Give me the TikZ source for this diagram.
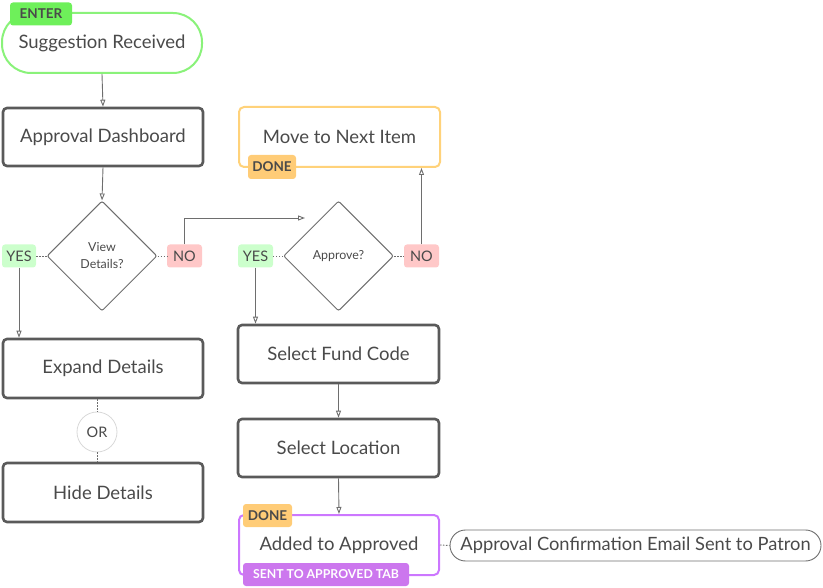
\documentclass[tikz,border=0pt]{standalone}
\usepackage{fontspec}
\setmainfont{Lato}
\usetikzlibrary{arrows.meta,shapes.geometric,calc}
\definecolor{txt}{HTML}{4A4A4A}
\definecolor{boxline}{HTML}{5A5A5A}
\definecolor{conn}{HTML}{6E6E6E}
\definecolor{entergreen}{HTML}{6EF05A}
\definecolor{enterline}{HTML}{8AF27A}
\definecolor{yesfill}{HTML}{CCFFCC}
\definecolor{nofill}{HTML}{FFC8C8}
\definecolor{doneline}{HTML}{FFD27A}
\definecolor{donefill}{HTML}{FFCC77}
\definecolor{purpline}{HTML}{CC77FF}
\definecolor{purpfill}{HTML}{CC77EE}
\definecolor{orline}{HTML}{D8D8D8}
\begin{document}
\begin{tikzpicture}[x=1pt,y=-1pt,
  every node/.style={text=txt,font=\fontsize{18.5}{21}\selectfont},
  procbox/.style={draw=boxline,line width=2.6pt,rounded corners=4pt,minimum width=200pt,minimum height=58pt,inner sep=0pt},
  colbox/.style={line width=2pt,rounded corners=5pt,minimum width=200pt,minimum height=60pt,inner sep=0pt},
  decide/.style={diamond,draw=conn,line width=1pt,inner sep=0pt,minimum width=110pt,minimum height=110pt,rounded corners=2pt,align=center,font=\fontsize{12.4}{17}\selectfont},
  tag/.style={rounded corners=3pt,inner sep=0pt,minimum height=23pt,font=\fontsize{13.5}{15}\selectfont\bfseries},
  yestag/.style={rounded corners=3pt,inner sep=0pt,minimum height=23pt,minimum width=35pt,fill=yesfill,font=\fontsize{14.5}{16}\selectfont},
  notag/.style={yestag,fill=nofill},
  conline/.style={draw=conn,line width=0.9pt},
  arr/.style={conline,-{Triangle[open,length=7pt,width=5pt]}},
  dotline/.style={draw=conn,line width=0.9pt,dash pattern=on 1.5pt off 1.5pt}
]
\useasboundingbox (0,0) rectangle (823,588);
% left column
\node[colbox,draw=enterline,rounded corners=29pt] (sugg) at (102,43) {Suggestion Received};
\node[tag,fill=entergreen,minimum width=62pt] (enter) at (41,14) {ENTER};
\node[procbox] (dash) at (103,137) {Approval Dashboard};
\node[decide] (view) at (102,256) {View\\Details?};
\node[yestag,minimum width=34pt] (yes1) at (19,256) {YES};
\node[notag] (no1) at (184.5,256) {NO};
\node[procbox,minimum height=59pt] (expand) at (103,368.5) {Expand Details};
\node[draw=orline,line width=0.8pt,circle,minimum size=40pt,inner sep=0pt,font=\fontsize{14.5}{16}\selectfont] (or) at (97,432) {OR};
\node[procbox,minimum height=59pt] (hide) at (103,492.5) {Hide Details};
% right column
\node[colbox,draw=doneline,minimum width=201pt] (move) at (339.5,137) {Move to Next Item};
\node[tag,fill=donefill,minimum width=48pt,minimum height=24pt] (done1) at (272,167) {DONE};
\node[decide] (approve) at (338.5,256) {Approve?};
\node[yestag] (yes2) at (255.5,256) {YES};
\node[notag] (no2) at (421.5,256) {NO};
\node[procbox,minimum width=201pt] (fund) at (338.5,354) {Select Fund Code};
\node[procbox,minimum width=201pt] (loc) at (338.5,448) {Select Location};
\node[colbox,draw=purpline] (added) at (339,545) {Added to Approved};
\node[tag,fill=donefill,minimum width=49pt] (done2) at (267.5,515.5) {DONE};
\node[tag,fill=purpfill,text=white,minimum width=166pt,font=\fontsize{12.3}{14}\selectfont\bfseries] (sent) at (326,574.5) {SENT TO APPROVED TAB};
\node[draw=conn,line width=0.9pt,rounded corners=15.5pt,minimum width=371pt,minimum height=31pt,inner sep=0pt,font=\fontsize{18.3}{20}\selectfont] (email) at (635.5,545.5) {Approval Confirmation Email Sent to Patron};
\coordinate (t1) at (305,218);
% connectors
\draw[arr] (sugg.south) -- (dash.north);
\draw[arr] (dash.south) -- (view.north);
\draw[dotline] (view.west) -- (yes1.east);
\draw[dotline] (view.east) -- (no1.west);
\draw[arr] (yes1.south) -- (yes1.south |- expand.north);
\draw[arr] (no1.north) |- (t1);
\draw[dotline] (expand.south -| or.north) -- (or.north);
\draw[dotline] (or.south) -- (hide.north -| or.south);
\draw[dotline] (approve.west) -- (yes2.east);
\draw[dotline] (approve.east) -- (no2.west);
\draw[arr] (no2.north) -- (no2.north |- move.south);
\draw[arr] (yes2.south) -- (yes2.south |- fund.north);
\draw[arr] (fund.south) -- (loc.north);
\draw[arr] (loc.south) -- (added.north);
\draw[dotline] (added.east) -- (email.west);
\end{tikzpicture}
\end{document}
